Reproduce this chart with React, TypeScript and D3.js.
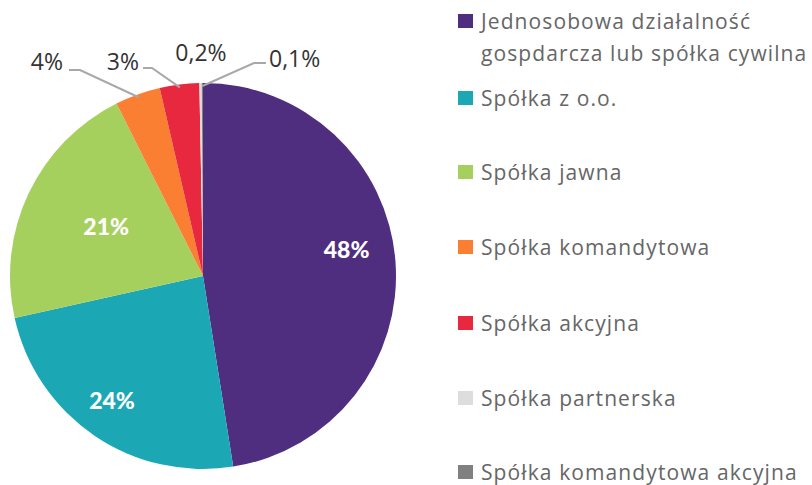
import React from "react";
import * as d3 from "d3";

const categories = [
  "Jednosobowa działalność|gospdarcza lub spółka cywilna",
  "Spółka z o.o.",
  "Spółka jawna",
  "Spółka komandytowa",
  "Spółka akcyjna",
  "Spółka partnerska",
  "Spółka komandytowa akcyjna",
];
const values = [47.5, 24, 21.1, 3.8, 3.3, 0.2, 0.1];
const labels = ["48%", "24%", "21%", "4%", "3%", "0,2%", "0,1%"];
const colors = ["#4f2d7f", "#1ca7b5", "#a6d05e", "#fb7f32", "#e8283f", "#dddddd", "#808080"];

const W = 812, H = 485;
const cx = 203, cy = 276, R = 193;
const innerLabelR = [146, 154, 109];
const innerLabelShift = [-6, 2, 2]; // degrees

export default function App() {
  const pie = d3.pie<number>().sort(null).value((d) => d);
  const arcs = pie(values);
  const arc = d3.arc<d3.PieArcDatum<number>>().innerRadius(0).outerRadius(R);

  const outside: Record<number, { tx: number; ty: number; anchor: string; line?: [number, number][] }> = {
    3: { tx: 63, ty: 70, anchor: "end", line: [[69, 70], [80, 70]] },
    4: { tx: 139, ty: 70, anchor: "end", line: [[143, 68], [152, 68]] },
    5: { tx: 201, ty: 61, anchor: "middle" },
    6: { tx: 269, ty: 67, anchor: "start", line: [[266, 63], [254, 63]] },
  };

  const legendY = [21, 98, 172, 247, 323, 398, 472];
  const legendFont = "'Open Sans', Lato, sans-serif";

  return (
    <svg width={W} height={H} style={{ position: "absolute", left: 0, top: 0, background: "#fff" }}>
      <g>
        {arcs.map((a, i) => (
          <path key={i} d={arc(a) || ""} transform={`translate(${cx},${cy})`} fill={colors[i]} />
        ))}
        {arcs.map((a, i) => {
          if (i > 2) return null;
          const mid = (a.startAngle + a.endAngle) / 2 + (innerLabelShift[i] * Math.PI) / 180;
          const x = Math.sin(mid) * innerLabelR[i];
          const y = -Math.cos(mid) * innerLabelR[i];
          return (
            <text key={"l" + i} x={cx + x} y={cy + y} textAnchor="middle" dominantBaseline="central"
              fill="#fff" fontFamily="Lato, 'Open Sans', sans-serif" fontWeight={900} fontSize={23}>
              {labels[i]}
            </text>
          );
        })}
        {arcs.map((a, i) => {
          const o = outside[i];
          if (!o) return null;
          const mid = (a.startAngle + a.endAngle) / 2;
          const ex = cx + Math.sin(mid) * (R - 3);
          const ey = cy - Math.cos(mid) * (R - 3);
          const pts: [number, number][] = o.line ? [...o.line, [ex, ey]] : [];
          return (
            <g key={"o" + i}>
              {o.line && (
                <polyline points={pts.map((p) => p.join(",")).join(" ")} fill="none" stroke="#a8a8a8" strokeWidth={2} />
              )}
              <text x={o.tx} y={o.ty} textAnchor={o.anchor} fill="#333" fontFamily={legendFont} fontSize={23}>
                {labels[i]}
              </text>
            </g>
          );
        })}
      </g>
      <g>
        {categories.map((c, i) => {
          const lines = c.split("|");
          const y = legendY[i];
          return (
            <g key={"lg" + i}>
              <rect x={458} y={y - 7} width={15} height={14} fill={colors[i]} />
              {lines.map((t, j) => (
                <text key={j} x={481} y={y + j * 32} dominantBaseline="central" fill="#666"
                  fontFamily={legendFont} fontSize={21} letterSpacing={1.1}>
                  {t}
                </text>
              ))}
            </g>
          );
        })}
      </g>
    </svg>
  );
}
